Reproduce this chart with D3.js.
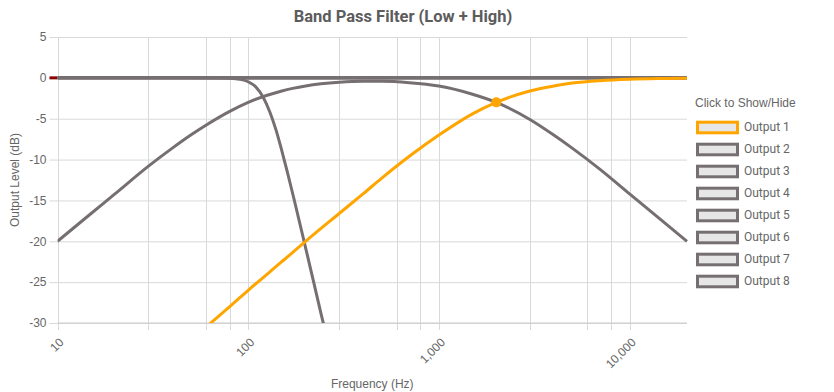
<!DOCTYPE html>
<html>
<head>
<meta charset="utf-8">
<script src="https://cdn.jsdelivr.net/npm/d3@7"></script>
<style>
  body { margin: 0; background: #fff; }
  text { font-family: 'Liberation Sans', Arial, sans-serif; }
</style>
</head>
<body>
<svg id="chart"></svg>
<script>
// ---- data ----
const outputNames = ['Output 1', 'Output 2', 'Output 3', 'Output 4', 'Output 5', 'Output 6', 'Output 7', 'Output 8'];

// Output 1: high pass (orange)
const highFreq = [10, 40, 50, 60, 80, 100, 150, 200, 300, 400, 500, 700, 1000, 1500, 2000, 3000, 4000, 5000, 7000, 10000, 15000, 20000];
const highDb = [-46, -34, -32.0, -30.5, -28.0, -26.0, -22.5, -20.0, -16.6, -14.2, -12.3, -9.6, -7.0, -4.4, -3.0, -1.6, -1.0, -0.64, -0.34, -0.17, -0.08, -0.04];

// Output 2: band pass (gray)
const bandFreq = [10, 15, 20, 30, 40, 50, 60, 80, 100, 150, 200, 300, 400, 500, 700, 1000, 1500, 2000, 3000, 4000, 5000, 7000, 10000, 15000, 20000];
const bandDb = [-20.0, -16.6, -14.2, -10.8, -8.6, -7.0, -5.8, -4.1, -3.0, -1.6, -1.0, -0.55, -0.43, -0.43, -0.59, -1.0, -2.0, -3.0, -5.1, -7.0, -8.6, -11.2, -14.2, -17.6, -20.0];

// Output 3: steep low pass (gray)
const lowFreq = [10, 30, 50, 70, 80, 90, 100, 110, 120, 130, 140, 150, 160, 175, 190, 200, 220, 240, 250, 300];
const lowDb = [0, 0, 0, -0.01, -0.05, -0.17, -0.48, -1.15, -2.4, -4.2, -6.4, -8.9, -11.4, -15.1, -18.6, -20.8, -24.9, -28.7, -30.4, -38];

// Outputs 4-8: flat
const flatFreq = [10, 20000];
const flatDb = [0, 0];

const markerFreq = [2000];
const markerDb = [-3.0];

const yTicks = [5, 0, -5, -10, -15, -20, -25, -30];
const xGrid = [10, 30, 60, 80, 100, 300, 600, 800, 1000, 3000, 6000, 8000, 10000];
const xLabels = [10, 100, 1000, 10000];

const seriesData = [
  { name: outputNames[0], f: highFreq, db: highDb },
  { name: outputNames[1], f: bandFreq, db: bandDb },
  { name: outputNames[2], f: lowFreq, db: lowDb },
  { name: outputNames[3], f: flatFreq, db: flatDb },
  { name: outputNames[4], f: flatFreq, db: flatDb },
  { name: outputNames[5], f: flatFreq, db: flatDb },
  { name: outputNames[6], f: flatFreq, db: flatDb },
  { name: outputNames[7], f: flatFreq, db: flatDb },
];

// ---- layout ----
const config = {
  w: 834,
  h: 392,
  left: 57.5,
  right: 687,
  top: 37,
  bottom: 323,
};
const gray = '#766f72';
const orange = '#ffa500';
const textColor = '#666';

const xScale = d3.scaleLog()
  .domain([10, 20000])
  .range([config.left, config.right]);

const yScale = d3.scaleLinear()
  .domain([-30, 5])
  .range([config.bottom, config.top]);

const svg = d3.select('#chart')
  .attr('width', config.w)
  .attr('height', config.h);

svg.append('defs').append('clipPath')
  .attr('id', 'plot-clip')
  .append('rect')
  .attr('x', config.left)
  .attr('y', config.top - 3)
  .attr('width', config.right - config.left + 2)
  .attr('height', config.bottom - config.top + 3);

// horizontal grid + y labels
const yAxis = d3.axisLeft(yScale)
  .tickValues(yTicks)
  .tickSize(-(config.right - config.left) - 8)
  .tickPadding(3)
  .tickFormat((d) => d);
const gy = svg.append('g')
  .attr('class', 'y-axis')
  .attr('transform', `translate(${config.right},0)`)
  .call(yAxis);
gy.select('.domain').remove();
gy.selectAll('line').attr('stroke', '#d9d9d9').attr('x2', -(config.right - config.left) - 8)
  .attr('x1', 0);
gy.selectAll('text')
  .attr('x', -(config.right - config.left) - 11)
  .attr('fill', textColor)
  .style('font-size', '12px');

// vertical grid
svg.append('g')
  .attr('class', 'x-grid')
  .selectAll('line')
  .data(xGrid)
  .join('line')
  .attr('x1', (d) => Math.round(xScale(d)) + 0.5)
  .attr('x2', (d) => Math.round(xScale(d)) + 0.5)
  .attr('y1', config.top)
  .attr('y2', config.bottom + 7)
  .attr('stroke', '#d9d9d9');

// bottom axis line
svg.append('line')
  .attr('x1', config.left)
  .attr('x2', config.right)
  .attr('y1', yScale(-30))
  .attr('y2', yScale(-30))
  .attr('stroke', '#ccc');

// x labels, rotated
svg.append('g')
  .attr('class', 'x-labels')
  .selectAll('text')
  .data(xLabels)
  .join('text')
  .attr('transform', (d) => `translate(${xScale(d) + 7},${config.bottom + 20}) rotate(-45)`)
  .attr('text-anchor', 'end')
  .attr('fill', textColor)
  .style('font-size', '12px')
  .text((d) => d3.format(',')(d));

// zero marker on the y axis
svg.append('line')
  .attr('x1', config.left - 8)
  .attr('x2', config.left)
  .attr('y1', yScale(0))
  .attr('y2', yScale(0))
  .attr('stroke', '#8b0000')
  .attr('stroke-width', 3);

// curves
const line = d3.line()
  .x((d) => xScale(d[0]))
  .y((d) => yScale(d[1]))
  .curve(d3.curveMonotoneX);

const plot = svg.append('g').attr('clip-path', 'url(#plot-clip)');
// gray ones first, orange on top
seriesData.slice().reverse().forEach((s) => {
  const pts = s.f.map((f, i) => [f, s.db[i]]);
  plot.append('path')
    .datum(pts)
    .attr('fill', 'none')
    .attr('stroke', s.name === 'Output 1' ? orange : gray)
    .attr('stroke-width', 3)
    .attr('stroke-linejoin', 'round')
    .attr('d', line);
});

plot.selectAll('circle.marker')
  .data(markerFreq)
  .join('circle')
  .attr('class', 'marker')
  .attr('cx', (d) => xScale(d))
  .attr('cy', (d, i) => yScale(markerDb[i]))
  .attr('r', 5)
  .attr('fill', orange);

// titles
svg.append('text')
  .attr('x', 403)
  .attr('y', 21.5)
  .attr('text-anchor', 'middle')
  .attr('fill', '#5c5c5c')
  .style('font-family', 'Roboto, sans-serif')
  .style('font-weight', 'bold')
  .style('font-size', '16.5px')
  .text('Band Pass Filter (Low + High)');

svg.append('text')
  .attr('x', (config.left + config.right) / 2)
  .attr('y', 388)
  .attr('text-anchor', 'middle')
  .attr('fill', textColor)
  .style('font-size', '12px')
  .text('Frequency (Hz)');

svg.append('text')
  .attr('transform', `translate(19,${(config.top + config.bottom) / 2}) rotate(-90)`)
  .attr('text-anchor', 'middle')
  .attr('fill', textColor)
  .style('font-size', '12px')
  .text('Output Level (dB)');

// legend
const legend = svg.append('g').attr('class', 'legend');
legend.append('text')
  .attr('x', 695)
  .attr('y', 107)
  .attr('fill', textColor)
  .style('font-size', '12px')
  .text('Click to Show/Hide');

const items = legend.selectAll('g.item')
  .data(outputNames)
  .join('g')
  .attr('class', 'item')
  .attr('transform', (d, i) => `translate(0,${i * 22})`);
items.append('rect')
  .attr('x', 697.5)
  .attr('y', 122.2)
  .attr('width', 40)
  .attr('height', 10.6)
  .attr('fill', '#e6e6e6')
  .attr('stroke', (d, i) => (i === 0 ? orange : gray))
  .attr('stroke-width', 3);
items.append('text')
  .attr('x', 744)
  .attr('y', 130.5)
  .attr('fill', textColor)
  .style('font-family', 'Roboto, sans-serif')
  .style('font-size', '12px')
  .text((d) => d);
</script>
</body>
</html>
